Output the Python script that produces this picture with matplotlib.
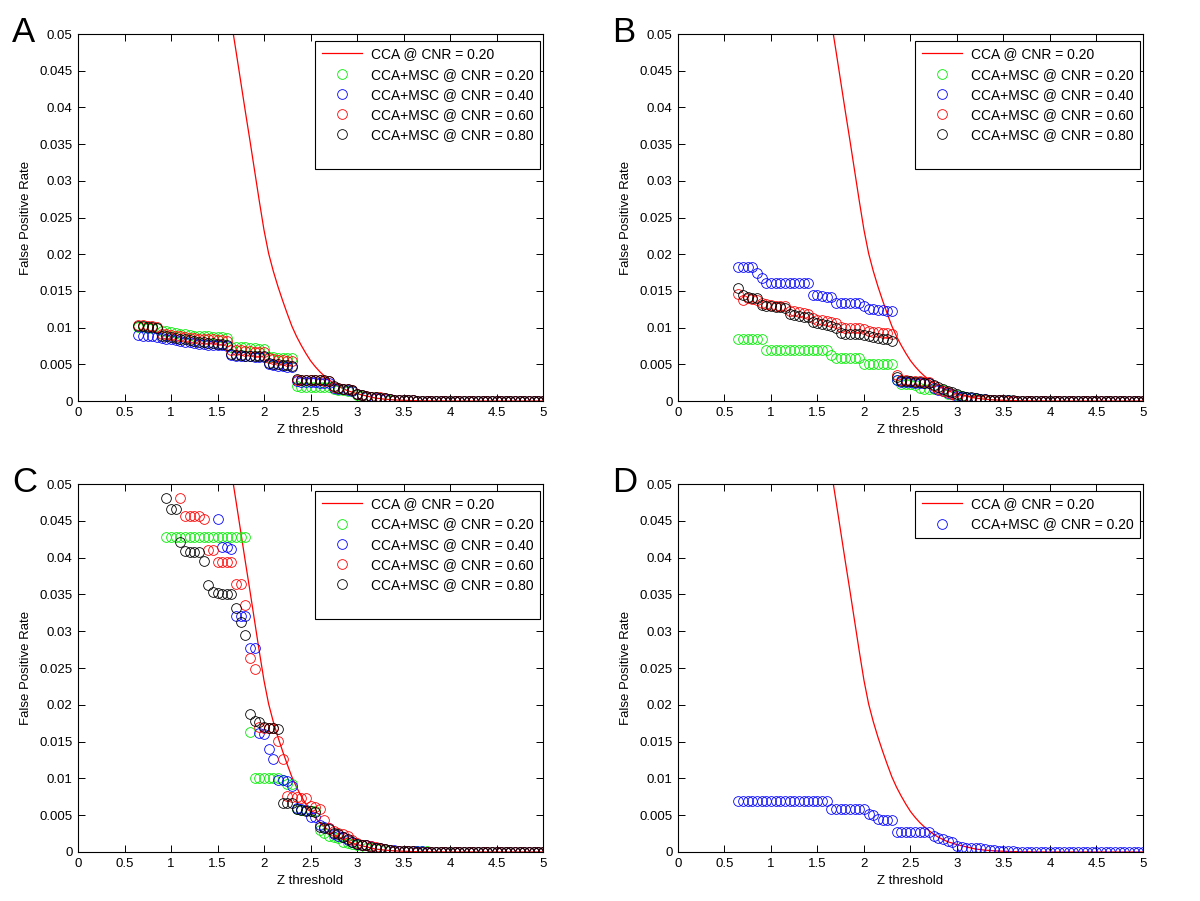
import numpy as np
import matplotlib
matplotlib.use("Agg")
import matplotlib.pyplot as plt
from matplotlib.lines import Line2D
from matplotlib.ticker import FormatStrFormatter

plt.rcParams['font.family'] = ['Liberation Sans', 'DejaVu Sans']

nan = np.nan

# Z threshold grid (x values of the markers)
z_thresh = np.array([
    0.65, 0.70, 0.75, 0.80, 0.85, 0.90, 0.95, 1.00, 1.05, 1.10,
    1.15, 1.20, 1.25, 1.30, 1.35, 1.40, 1.45, 1.50, 1.55, 1.60,
    1.65, 1.70, 1.75, 1.80, 1.85, 1.90, 1.95, 2.00, 2.05, 2.10,
    2.15, 2.20, 2.25, 2.30, 2.35, 2.40, 2.45, 2.50, 2.55, 2.60,
    2.65, 2.70, 2.75, 2.80, 2.85, 2.90, 2.95, 3.00, 3.05, 3.10,
    3.15, 3.20, 3.25, 3.30, 3.35, 3.40, 3.45, 3.50, 3.55, 3.60,
    3.65, 3.70, 3.75, 3.80, 3.85, 3.90, 3.95, 4.00, 4.05, 4.10,
    4.15, 4.20, 4.25, 4.30, 4.35, 4.40, 4.45, 4.50, 4.55, 4.60,
    4.65, 4.70, 4.75, 4.80, 4.85, 4.90, 4.95, 5.00])

# CCA reference curve (CNR = 0.20), same in every panel
cca_z = [1.60, 1.65, 1.70, 1.75, 1.80, 1.85, 1.90, 1.95, 2.00, 2.05, 2.10, 2.15,
         2.20, 2.25, 2.30, 2.35, 2.40, 2.45, 2.50, 2.55, 2.60, 2.65, 2.70, 2.75,
         2.80, 2.85, 2.90, 2.95, 3.00, 3.10, 3.20, 3.30, 3.40, 3.50, 3.60, 3.80,
         4.00, 4.50, 5.00]
cca_fpr = [0.0556, 0.0516, 0.0476, 0.0435, 0.0394, 0.0354, 0.0313, 0.0272,
           0.0233, 0.0201, 0.0177, 0.0156, 0.0137, 0.0119, 0.0102, 0.0088,
           0.0076, 0.0065, 0.0055, 0.0047, 0.0040, 0.0034, 0.0029, 0.0024,
           0.0020, 0.0017, 0.0014, 0.0012, 0.0010, 0.0007, 0.0004, 0.00025,
           0.00015, 0.0001, 0.00005, 0.00002, 0.0, 0.0, 0.0]

# CCA+MSC false positive rates, in units of 1e-3 (nan = above 0.05)
# Panel A
a_cnr20 = [10.1, 10.1, 10.0, 10.0, 9.9, 9.6, 9.5, 9.4, 9.3, 9.2,
           9.1, 9.0, 8.9, 8.9, 8.8, 8.8, 8.7, 8.7, 8.7, 8.6,
           7.4, 7.4, 7.3, 7.3, 7.2, 7.2, 7.1, 7.1, 6.0, 6.0,
           5.9, 5.9, 5.8, 5.8, 2.0, 1.9, 1.9, 1.9, 1.9, 1.9,
           1.9, 1.9, 1.6, 1.5, 1.5, 1.4, 1.3, 0.8, 0.7, 0.6,
           0.5, 0.5, 0.4, 0.4, 0.2, 0.2, 0.2, 0.1, 0.1, 0.1,
           0, 0, 0, 0, 0, 0, 0, 0, 0, 0,
           0, 0, 0, 0, 0, 0, 0, 0, 0, 0,
           0, 0, 0, 0, 0, 0, 0, 0]
a_cnr40 = [9.0, 8.9, 8.8, 8.8, 8.7, 8.6, 8.5, 8.4, 8.3, 8.2,
           8.1, 8.0, 7.9, 7.8, 7.8, 7.7, 7.7, 7.6, 7.6, 7.5,
           6.3, 6.2, 6.2, 6.1, 6.1, 6.0, 6.0, 6.0, 5.0, 4.9,
           4.8, 4.8, 4.7, 4.7, 2.7, 2.6, 2.6, 2.6, 2.6, 2.5,
           2.5, 2.5, 1.8, 1.7, 1.6, 1.5, 1.4, 1.0, 0.8, 0.6,
           0.5, 0.4, 0.4, 0.3, 0.3, 0.2, 0.2, 0.1, 0.1, 0.1,
           0, 0, 0, 0, 0, 0, 0, 0, 0, 0,
           0, 0, 0, 0, 0, 0, 0, 0, 0, 0,
           0, 0, 0, 0, 0, 0, 0, 0]
a_cnr60 = [10.3, 10.3, 10.2, 10.2, 10.1, 9.2, 9.1, 9.0, 8.9, 8.8,
           8.7, 8.6, 8.6, 8.5, 8.5, 8.4, 8.4, 8.3, 8.3, 8.2,
           7.0, 6.9, 6.9, 6.8, 6.8, 6.7, 6.7, 6.7, 5.8, 5.7,
           5.6, 5.6, 5.5, 5.5, 2.9, 2.9, 2.8, 2.8, 2.8, 2.8,
           2.7, 2.7, 1.9, 1.8, 1.7, 1.6, 1.5, 0.9, 0.8, 0.7,
           0.6, 0.6, 0.5, 0.4, 0.3, 0.2, 0.2, 0.1, 0.1, 0.1,
           0, 0, 0, 0, 0, 0, 0, 0, 0, 0,
           0, 0, 0, 0, 0, 0, 0, 0, 0, 0,
           0, 0, 0, 0, 0, 0, 0, 0]
a_cnr80 = [10.2, 10.2, 10.1, 10.1, 10.0, 8.9, 8.8, 8.7, 8.6, 8.5,
           8.4, 8.3, 8.2, 8.1, 8.0, 7.9, 7.9, 7.8, 7.8, 7.7,
           6.4, 6.3, 6.3, 6.2, 6.2, 6.1, 6.1, 6.1, 5.2, 5.1,
           5.0, 4.9, 4.9, 4.8, 3.0, 2.9, 2.9, 2.8, 2.8, 2.8,
           2.8, 2.7, 2.0, 1.8, 1.7, 1.6, 1.5, 1.0, 0.8, 0.7,
           0.6, 0.5, 0.4, 0.4, 0.3, 0.2, 0.2, 0.1, 0.1, 0.1,
           0, 0, 0, 0, 0, 0, 0, 0, 0, 0,
           0, 0, 0, 0, 0, 0, 0, 0, 0, 0,
           0, 0, 0, 0, 0, 0, 0, 0]

# Panel B
b_cnr20 = [8.5, 8.5, 8.5, 8.5, 8.5, 8.5, 6.9, 6.9, 6.9, 6.9,
           6.9, 6.9, 6.9, 6.9, 6.9, 6.9, 6.9, 6.9, 6.9, 6.9,
           6.3, 5.8, 5.8, 5.8, 5.8, 5.8, 5.8, 5.1, 5.1, 5.1,
           5.1, 5.1, 5.1, 5.1, 2.9, 2.3, 2.3, 2.3, 2.2, 1.8,
           1.7, 1.7, 1.6, 1.6, 1.5, 1.0, 0.9, 0.8, 0.7, 0.5,
           0.4, 0.3, 0.3, 0.2, 0.2, 0.1, 0.1, 0.1, 0.1, 0.0,
           0, 0, 0, 0, 0, 0, 0, 0, 0, 0,
           0, 0, 0, 0, 0, 0, 0, 0, 0, 0,
           0, 0, 0, 0, 0, 0, 0, 0]
b_cnr40 = [18.3, 18.3, 18.2, 18.2, 17.4, 16.8, 16.1, 16.1, 16.1, 16.1,
           16.1, 16.1, 16.1, 16.1, 16.1, 16.1, 14.5, 14.4, 14.3, 14.2,
           14.2, 13.4, 13.4, 13.4, 13.4, 13.4, 13.4, 13.0, 12.6, 12.5,
           12.4, 12.4, 12.3, 12.3, 2.8, 2.6, 2.6, 2.6, 2.5, 2.5,
           2.5, 2.4, 1.8, 1.5, 1.3, 1.1, 0.9, 0.7, 0.6, 0.5,
           0.4, 0.4, 0.3, 0.3, 0.2, 0.2, 0.1, 0.1, 0.1, 0.0,
           0, 0, 0, 0, 0, 0, 0, 0, 0, 0,
           0, 0, 0, 0, 0, 0, 0, 0, 0, 0,
           0, 0, 0, 0, 0, 0, 0, 0]
b_cnr60 = [14.6, 13.7, 14.0, 13.9, 13.8, 13.3, 13.2, 13.1, 13.0, 13.0,
           12.9, 12.3, 12.2, 12.1, 12.0, 11.9, 11.3, 11.1, 11.0, 10.9,
           10.8, 10.6, 10.1, 10.0, 10.0, 9.9, 9.9, 9.8, 9.5, 9.4,
           9.4, 9.3, 9.3, 9.2, 3.6, 2.8, 2.8, 2.7, 2.7, 2.7,
           2.6, 2.6, 2.0, 1.6, 1.4, 1.2, 1.0, 0.4, 0.3, 0.2,
           0.2, 0.2, 0.2, 0.1, 0.1, 0.1, 0.1, 0.1, 0.0, 0.0,
           0, 0, 0, 0, 0, 0, 0, 0, 0, 0,
           0, 0, 0, 0, 0, 0, 0, 0, 0, 0,
           0, 0, 0, 0, 0, 0, 0, 0]
b_cnr80 = [15.4, 14.4, 14.2, 14.1, 14.0, 13.1, 13.0, 12.9, 12.8, 12.8,
           12.7, 11.8, 11.7, 11.6, 11.5, 11.4, 10.8, 10.6, 10.5, 10.4,
           10.2, 9.9, 9.3, 9.2, 9.2, 9.1, 9.1, 9.0, 8.8, 8.7,
           8.6, 8.5, 8.4, 8.2, 3.3, 2.7, 2.7, 2.7, 2.6, 2.6,
           2.5, 2.5, 2.2, 1.9, 1.6, 1.4, 1.2, 0.9, 0.7, 0.6,
           0.5, 0.4, 0.3, 0.3, 0.2, 0.2, 0.1, 0.1, 0.1, 0.1,
           0, 0, 0, 0, 0, 0, 0, 0, 0, 0,
           0, 0, 0, 0, 0, 0, 0, 0, 0, 0,
           0, 0, 0, 0, 0, 0, 0, 0]

# Panel C
c_cnr20 = [nan, nan, nan, nan, nan, nan, 42.8, 42.8, 42.8, 42.8,
           42.8, 42.8, 42.8, 42.8, 42.8, 42.8, 42.8, 42.8, 42.8, 42.8,
           42.8, 42.8, 42.8, 42.8, 16.3, 10.0, 10.0, 10.0, 10.0, 10.0,
           10.0, 9.8, 9.3, 9.2, 5.8, 5.7, 5.7, 5.6, 5.6, 3.0,
           2.6, 2.2, 2.0, 1.9, 1.3, 1.2, 1.1, 1.0, 0.9, 0.6,
           0.5, 0.5, 0.4, 0.3, 0.3, 0.2, 0.2, 0.2, 0.2, 0.1,
           0.1, 0.1, 0.1, 0, 0, 0, 0, 0, 0, 0,
           0, 0, 0, 0, 0, 0, 0, 0, 0, 0,
           0, 0, 0, 0, 0, 0, 0, 0]
c_cnr40 = [nan, nan, nan, nan, nan, nan, nan, nan, nan, nan,
           nan, nan, nan, nan, nan, nan, nan, 45.2, 41.4, 41.4,
           41.2, 32.1, 32.1, 32.1, 27.7, 27.7, 16.1, 16.0, 14.0, 12.6,
           9.8, 9.8, 9.7, 8.9, 6.0, 5.8, 5.7, 4.8, 4.7, 3.6,
           3.4, 3.3, 2.4, 2.2, 2.0, 1.6, 1.4, 1.1, 1.0, 0.9,
           0.8, 0.6, 0.5, 0.4, 0.3, 0.3, 0.2, 0.2, 0.1, 0.1,
           0.1, 0.1, 0, 0, 0, 0, 0, 0, 0, 0,
           0, 0, 0, 0, 0, 0, 0, 0, 0, 0,
           0, 0, 0, 0, 0, 0, 0, 0]
c_cnr60 = [nan, nan, nan, nan, nan, nan, nan, nan, nan, 48.1,
           45.6, 45.6, 45.6, 45.6, 45.2, 41.0, 41.0, 39.4, 39.4, 39.4,
           39.4, 36.4, 36.4, 33.5, 26.3, 24.8, 17.0, 16.9, 16.8, 16.8,
           15.1, 12.6, 7.6, 7.5, 7.5, 7.4, 7.3, 6.2, 6.1, 5.9,
           4.3, 3.3, 2.8, 2.6, 2.5, 2.2, 1.6, 1.2, 1.0, 0.9,
           0.8, 0.7, 0.5, 0.4, 0.3, 0.2, 0.2, 0.1, 0.1, 0.1,
           0, 0, 0, 0, 0, 0, 0, 0, 0, 0,
           0, 0, 0, 0, 0, 0, 0, 0, 0, 0,
           0, 0, 0, 0, 0, 0, 0, 0]
c_cnr80 = [nan, nan, nan, nan, nan, nan, 48.1, 46.6, 46.6, 42.1,
           40.9, 40.8, 40.8, 40.8, 39.5, 36.3, 35.3, 35.2, 35.1, 35.1,
           35.0, 33.2, 31.3, 29.5, 18.8, 17.8, 17.6, 17.0, 16.8, 16.8,
           16.7, 6.7, 6.7, 6.6, 5.8, 5.7, 5.6, 5.6, 5.5, 3.4,
           3.2, 3.1, 2.6, 2.4, 2.1, 1.7, 1.4, 1.1, 1.0, 0.9,
           0.7, 0.6, 0.5, 0.4, 0.3, 0.2, 0.2, 0.1, 0.1, 0.1,
           0, 0, 0, 0, 0, 0, 0, 0, 0, 0,
           0, 0, 0, 0, 0, 0, 0, 0, 0, 0,
           0, 0, 0, 0, 0, 0, 0, 0]

# Panel D
d_cnr20 = [6.9, 6.9, 6.9, 6.9, 6.9, 6.9, 6.9, 6.9, 6.9, 6.9,
           6.9, 6.9, 6.9, 6.9, 6.9, 6.9, 6.9, 6.9, 6.9, 6.9,
           5.9, 5.9, 5.9, 5.9, 5.9, 5.9, 5.9, 5.9, 5.1, 5.0,
           4.5, 4.4, 4.4, 4.4, 2.7, 2.7, 2.7, 2.7, 2.7, 2.7,
           2.7, 2.7, 2.2, 1.9, 1.7, 1.5, 1.3, 0.8, 0.7, 0.6,
           0.6, 0.5, 0.5, 0.4, 0.3, 0.3, 0.2, 0.2, 0.1, 0.1,
           0, 0, 0, 0, 0, 0, 0, 0, 0, 0,
           0, 0, 0, 0, 0, 0, 0, 0, 0, 0,
           0, 0, 0, 0, 0, 0, 0, 0]

cnr_labels = ['0.20', '0.40', '0.60', '0.80']
msc_colors = ['#00ee00', '#0000ff', '#ff0000', '#000000']

fig = plt.figure(figsize=(12, 9.01), dpi=100)

panels = [
    ('A', [0.065, 0.5549, 0.3875, 0.4073], [a_cnr20, a_cnr40, a_cnr60, a_cnr80]),
    ('B', [0.565, 0.5549, 0.3875, 0.4073], [b_cnr20, b_cnr40, b_cnr60, b_cnr80]),
    ('C', [0.065, 0.0544, 0.3875, 0.4084], [c_cnr20, c_cnr40, c_cnr60, c_cnr80]),
    ('D', [0.565, 0.0544, 0.3875, 0.4084], [d_cnr20]),
]

for letter, pos, series in panels:
    ax = fig.add_axes(pos)
    ax.plot(cca_z, cca_fpr, color='red', lw=0.9, label='CCA @ CNR = 0.20')
    for i, vals in enumerate(series):
        if letter == 'D':
            col = msc_colors[1]
        else:
            col = msc_colors[i]
        ax.plot(z_thresh, np.array(vals) * 1e-3, linestyle='none', marker='o',
                ms=7, mfc='none', mec=col, mew=0.6,
                label='CCA+MSC @ CNR = ' + cnr_labels[i])
    ax.set_xlim(0, 5)
    ax.set_ylim(0, 0.05)
    ax.set_xticks(np.arange(0, 5.01, 0.5))
    ax.set_yticks(np.arange(0, 0.0501, 0.005))
    ax.xaxis.set_major_formatter(FormatStrFormatter('%g'))
    ax.yaxis.set_major_formatter(FormatStrFormatter('%g'))
    ax.tick_params(direction='in', length=5, width=0.7, labelsize=9.5,
                   top=True, right=True, pad=4)
    for sp in ax.spines.values():
        sp.set_linewidth(0.8)
    ax.set_xlabel('Z threshold', fontsize=9.5, labelpad=4)
    ax.set_ylabel('False Positive Rate', fontsize=9.5, labelpad=5)

    handles, labels = ax.get_legend_handles_labels()
    if len(series) > 1:
        # MATLAB-style legend box leaves an empty band at the bottom
        handles.append(Line2D([], [], linestyle='none'))
        labels.append(' ')
    leg = ax.legend(handles, labels, loc='upper right',
                    bbox_to_anchor=(0.9935, 0.981), borderaxespad=0,
                    fontsize=10, frameon=True, fancybox=False,
                    edgecolor='black', framealpha=1, handlelength=2.9,
                    handletextpad=0.65, labelspacing=0.45, borderpad=0.45,
                    numpoints=1)
    leg.get_frame().set_linewidth(0.8)
    fig.text(pos[0] - 0.055, pos[1] + pos[3] - 0.017, letter, fontsize=25,
             ha='left', va='bottom')

fig.savefig('out.png', dpi=100)
